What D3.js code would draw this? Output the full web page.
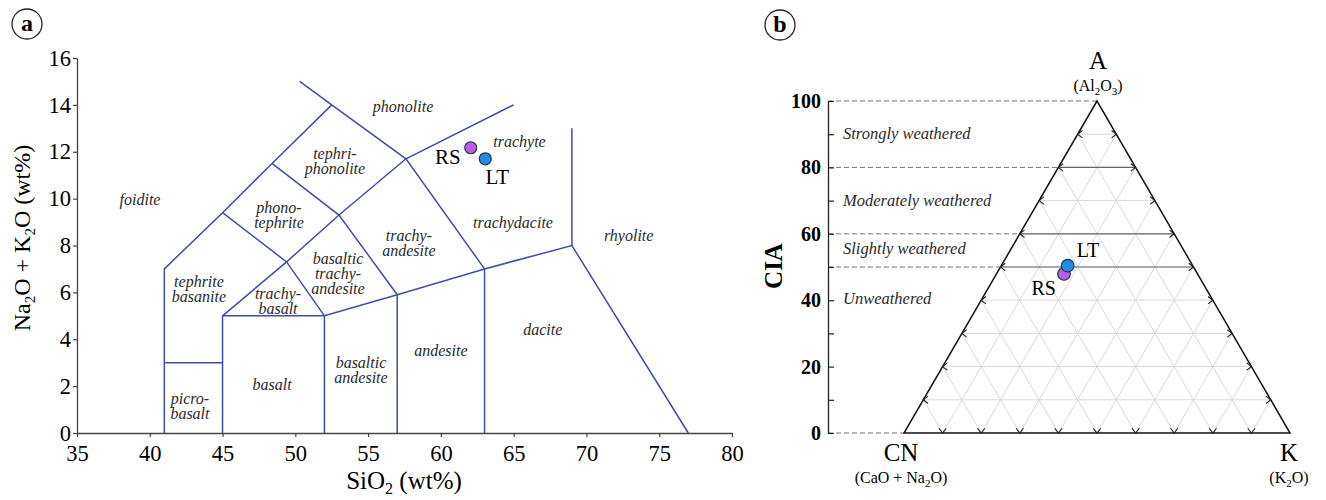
<!DOCTYPE html>
<html><head><meta charset="utf-8">
<script src="https://cdn.jsdelivr.net/npm/d3@7"></script>
<style>body{margin:0;background:#fff}svg{display:block}</style>
</head><body>
<svg id="chart" width="1326" height="500"></svg>
<script>
// ---------- data ----------
const sampleNames = ["RS", "LT"];
const sampleColors = ["#b45ef0", "#1f8cf0"];
// TAS: SiO2 and total alkali (wt%)
const sio2 = [62.05, 63.05];
const alkali = [12.17, 11.7];
// A–CN–K ternary (molar %)
const ternA = [47.9, 50.4];
const ternCN = [34.6, 32.4];
const ternK = [17.5, 17.2];

const tasXTicks = [35, 40, 45, 50, 55, 60, 65, 70, 75, 80];
const tasYTicks = [0, 2, 4, 6, 8, 10, 12, 14, 16];
const ciaTicks = [0, 20, 40, 60, 80, 100];
const ciaMinorTicks = [10, 30, 50, 70, 90];

// TAS field boundaries as polylines in (SiO2, Na2O+K2O)
const tasBoundaries = [
  [[41, 0], [41, 7], [45, 9.4], [48.4, 11.5], [52.5, 14]],
  [[50.3, 15], [52.5, 14], [57.6, 11.7], [63, 7]],
  [[41, 3], [45, 3]],
  [[45, 0], [45, 5]],
  [[45, 5], [52, 5], [57, 5.9], [63, 7], [69, 8], [77, 0]],
  [[52, 0], [52, 5]],
  [[57, 0], [57, 5.9]],
  [[63, 0], [63, 7]],
  [[69, 8], [69, 13]],
  [[45, 5], [49.4, 7.3], [53, 9.3], [57.6, 11.7], [65, 14]],
  [[45, 9.4], [49.4, 7.3], [52, 5]],
  [[48.4, 11.5], [53, 9.3], [57, 5.9]]
];

// rock field names with anchor (SiO2, alkali)
const tasFields = [
  {lines: ["phonolite"], at: [57.4, 13.9]},
  {lines: ["trachyte"], at: [65.4, 12.42]},
  {lines: ["trachydacite"], at: [64.95, 8.96]},
  {lines: ["rhyolite"], at: [72.9, 8.4]},
  {lines: ["trachy-", "andesite"], at: [57.8, 8.09]},
  {lines: ["foidite"], at: [39.33, 9.94]},
  {lines: ["tephri-", "phonolite"], at: [52.72, 11.6]},
  {lines: ["phono-", "tephrite"], at: [48.88, 9.28]},
  {lines: ["tephrite", "basanite"], at: [43.38, 6.14]},
  {lines: ["trachy-", "basalt"], at: [48.81, 5.63]},
  {lines: ["basaltic", "trachy-", "andesite"], at: [52.93, 6.78]},
  {lines: ["basaltic", "andesite"], at: [54.51, 2.65]},
  {lines: ["basalt"], at: [48.4, 2.05]},
  {lines: ["picro-", "basalt"], at: [42.76, 1.13]},
  {lines: ["andesite"], at: [60.0, 3.5]},
  {lines: ["dacite"], at: [67.0, 4.39]}
];

// weathering classes on the CIA scale: [label, centre value]
const weatherLabels = ["Strongly weathered", "Moderately weathered", "Slightly weathered", "Unweathered"];
const weatherCentres = [90, 70, 55.5, 40.5];
const ciaBreaks = [0, 50, 60, 80, 100];
const ciaSolidBreaks = [50, 60, 80];

// ---------- drawing ----------
const svg = d3.select("#chart");
const serif = "'Liberation Serif','Times New Roman',serif";
const lineBlue = "#3e4ea8";

// panel tag
function panelTag(cx, cy, ch) {
  svg.append("circle").attr("cx", cx).attr("cy", cy).attr("r", 15)
    .attr("fill", "none").attr("stroke", "#222").attr("stroke-width", 1.3);
  svg.append("text").attr("x", cx).attr("y", cy + 7).attr("text-anchor", "middle")
    .attr("font-family", serif).attr("font-size", 24).attr("font-weight", "bold").text(ch);
}

// ===== panel a : TAS =====
const x = d3.scaleLinear().domain([35, 80]).range([77, 732]);
const y = d3.scaleLinear().domain([0, 16]).range([433, 58]);
const ga = svg.append("g");

const xAxis = ga.append("g").attr("transform", `translate(0,${y(0)})`)
  .call(d3.axisBottom(x).tickValues(tasXTicks).tickSize(4).tickSizeOuter(0));
const yAxis = ga.append("g").attr("transform", `translate(${x(35)},0)`)
  .call(d3.axisLeft(y).tickValues(tasYTicks).tickSize(4).tickSizeOuter(0));
[xAxis, yAxis].forEach(a => {
  a.select(".domain").attr("stroke", "#444").attr("stroke-width", 1.3);
  a.selectAll(".tick line").attr("stroke", "#444").attr("stroke-width", 1.2);
  a.selectAll(".tick text").attr("font-family", serif).attr("font-size", 22.5).attr("fill", "#000");
});
xAxis.selectAll(".tick text").attr("dy", "0.95em");
yAxis.selectAll(".tick text").attr("x", -6);

const line = d3.line().x(d => x(d[0])).y(d => y(d[1]));
ga.append("g").selectAll("path").data(tasBoundaries).join("path")
  .attr("d", line).attr("fill", "none").attr("stroke", lineBlue).attr("stroke-width", 1.5);

const fieldText = ga.append("g").selectAll("text").data(tasFields).join("text")
  .attr("font-family", serif).attr("font-style", "italic").attr("font-size", 16)
  .attr("fill", "#2a2a2a").attr("text-anchor", "middle");
fieldText.each(function (d) {
  const n = d.lines.length, lh = 15;
  const t = d3.select(this);
  d.lines.forEach((s, i) => {
    t.append("tspan").attr("x", x(d.at[0]))
      .attr("y", y(d.at[1]) + (i - (n - 1) / 2) * lh + 5).text(s);
  });
});

// samples
ga.append("g").selectAll("circle").data(sampleNames).join("circle")
  .attr("cx", (d, i) => x(sio2[i])).attr("cy", (d, i) => y(alkali[i])).attr("r", 6)
  .attr("fill", (d, i) => sampleColors[i]).attr("stroke", "#333").attr("stroke-width", 1.2);
ga.append("text").attr("x", x(sio2[0]) - 10).attr("y", y(alkali[0]) + 16)
  .attr("text-anchor", "end").attr("font-family", serif).attr("font-size", 21).text(sampleNames[0]);
ga.append("text").attr("x", x(sio2[1]) + 12).attr("y", y(alkali[1]) + 25)
  .attr("text-anchor", "middle").attr("font-family", serif).attr("font-size", 21).text(sampleNames[1]);

// axis titles
const xt = ga.append("text").attr("x", 404).attr("y", 489).attr("text-anchor", "middle")
  .attr("font-family", serif).attr("font-size", 25);
xt.append("tspan").text("SiO");
xt.append("tspan").attr("font-size", 16).attr("dy", 5).text("2");
xt.append("tspan").attr("dy", -5).text(" (wt%)");

const yt = ga.append("text").attr("transform", "translate(30,238) rotate(-90)")
  .attr("text-anchor", "middle").attr("font-family", serif).attr("font-size", 24);
yt.append("tspan").text("Na");
yt.append("tspan").attr("font-size", 15).attr("dy", 5).text("2");
yt.append("tspan").attr("dy", -5).text("O + K");
yt.append("tspan").attr("font-size", 15).attr("dy", 5).text("2");
yt.append("tspan").attr("dy", -5).text("O (wt%)");

panelTag(27, 24, "a");

// ===== panel b : A–CN–K ternary =====
const yc = d3.scaleLinear().domain([0, 100]).range([433, 101]);
const xb = d3.scaleLinear().domain([0, 100]).range([904, 1290]);
const tern = (a, cn, k) => [xb(k + a / 2), yc(a)];
const gb = svg.append("g");

// light grid
const grid = [];
for (let i = 10; i < 100; i += 10) {
  grid.push([tern(i, 100 - i, 0), tern(i, 0, 100 - i)]);
  grid.push([tern(0, 100 - i, i), tern(100 - i, 0, i)]);
  grid.push([tern(0, i, 100 - i), tern(100 - i, i, 0)]);
}
gb.append("g").selectAll("line").data(grid).join("line")
  .attr("x1", d => d[0][0]).attr("y1", d => d[0][1])
  .attr("x2", d => d[1][0]).attr("y2", d => d[1][1])
  .attr("stroke", "#d9d9d9").attr("stroke-width", 1);

// class boundaries across the triangle
gb.append("g").selectAll("line").data(ciaSolidBreaks).join("line")
  .attr("x1", d => tern(d, 100 - d, 0)[0]).attr("x2", d => tern(d, 0, 100 - d)[0])
  .attr("y1", d => yc(d)).attr("y2", d => yc(d))
  .attr("stroke", "#666").attr("stroke-width", 1.2);

// dashed guides from the CIA axis
gb.append("g").selectAll("line").data(ciaBreaks).join("line")
  .attr("x1", 828).attr("x2", d => tern(d, 100 - d, 0)[0])
  .attr("y1", d => yc(d)).attr("y2", d => yc(d))
  .attr("stroke", "#777").attr("stroke-width", 1).attr("stroke-dasharray", "5,3");

// triangle outline
gb.append("path")
  .attr("d", d3.line()([tern(100, 0, 0), tern(0, 100, 0), tern(0, 0, 100)]) + "Z")
  .attr("fill", "none").attr("stroke", "#111").attr("stroke-width", 1.5);

// chevron ticks on the three edges
const chev = [];
const arm = 6, ang = 38 * Math.PI / 180;
function chevron(p, dirDeg) {
  const d = dirDeg * Math.PI / 180;
  const a1 = [p[0] - arm * Math.cos(d - ang), p[1] - arm * Math.sin(d - ang)];
  const a2 = [p[0] - arm * Math.cos(d + ang), p[1] - arm * Math.sin(d + ang)];
  chev.push([a1, p, a2]);
}
for (let i = 10; i < 100; i += 10) {
  chevron(tern(i, 100 - i, 0), 180);   // left edge, pointing left
  chevron(tern(i, 0, 100 - i), 0);     // right edge, pointing right
  chevron(tern(0, 100 - i, i), 90);    // base, pointing down
}
gb.append("g").selectAll("path").data(chev).join("path")
  .attr("d", d3.line()).attr("fill", "none").attr("stroke", "#222").attr("stroke-width", 1.1);

// CIA axis
const cAxis = gb.append("g").attr("transform", "translate(828,0)")
  .call(d3.axisRight(yc).tickValues(ciaTicks.concat(ciaMinorTicks)).tickSize(6).tickSizeOuter(0).tickFormat(""));
cAxis.select(".domain").attr("stroke", "#222").attr("stroke-width", 1.3);
cAxis.selectAll(".tick line").attr("stroke", "#222").attr("stroke-width", 1.2);
gb.append("g").selectAll("text").data(ciaTicks).join("text")
  .attr("x", 821).attr("y", d => yc(d) + 7).attr("text-anchor", "end")
  .attr("font-family", serif).attr("font-size", 20).attr("font-weight", "bold").text(d => d);

gb.append("text").attr("transform", "translate(782,266) rotate(-90)")
  .attr("text-anchor", "middle").attr("font-family", serif).attr("font-size", 25)
  .attr("font-weight", "bold").text("CIA");

// weathering class names
gb.append("g").selectAll("text").data(weatherLabels).join("text")
  .attr("x", 843).attr("y", (d, i) => yc(weatherCentres[i]) + 5)
  .attr("font-family", serif).attr("font-style", "italic").attr("font-size", 16.5)
  .attr("fill", "#2a2a2a").text(d => d);

// vertex labels
function vertex(cx, top, big, parts) {
  gb.append("text").attr("x", cx).attr("y", top).attr("text-anchor", "middle")
    .attr("font-family", serif).attr("font-size", 25).text(big);
  const t = gb.append("text").attr("x", cx).attr("y", top + 22).attr("text-anchor", "middle")
    .attr("font-family", serif).attr("font-size", 16);
  parts.forEach(p => {
    if (p.sub) t.append("tspan").attr("font-size", 11).attr("dy", 4).text(p.s);
    else t.append("tspan").attr("dy", p.after ? -4 : 0).text(p.s);
  });
}
vertex(1098, 69, "A", [{s: "(Al"}, {s: "2", sub: 1}, {s: "O", after: 1}, {s: "3", sub: 1}, {s: ")", after: 1}]);
vertex(901, 461, "CN", [{s: "(CaO + Na"}, {s: "2", sub: 1}, {s: "O)", after: 1}]);
vertex(1289, 461, "K", [{s: "(K"}, {s: "2", sub: 1}, {s: "O)", after: 1}]);

// samples
const pts = sampleNames.map((n, i) => tern(ternA[i], ternCN[i], ternK[i]));
gb.append("g").selectAll("circle").data(sampleNames).join("circle")
  .attr("cx", (d, i) => pts[i][0]).attr("cy", (d, i) => pts[i][1]).attr("r", 6.3)
  .attr("fill", (d, i) => sampleColors[i]).attr("stroke", "#333").attr("stroke-width", 1.2);
gb.append("text").attr("x", pts[0][0] - 8).attr("y", pts[0][1] + 21).attr("text-anchor", "end")
  .attr("font-family", serif).attr("font-size", 20).text(sampleNames[0]);
gb.append("text").attr("x", pts[1][0] + 9).attr("y", pts[1][1] - 9).attr("text-anchor", "start")
  .attr("font-family", serif).attr("font-size", 20).text(sampleNames[1]);

panelTag(780, 25, "b");
</script>
</body></html>
